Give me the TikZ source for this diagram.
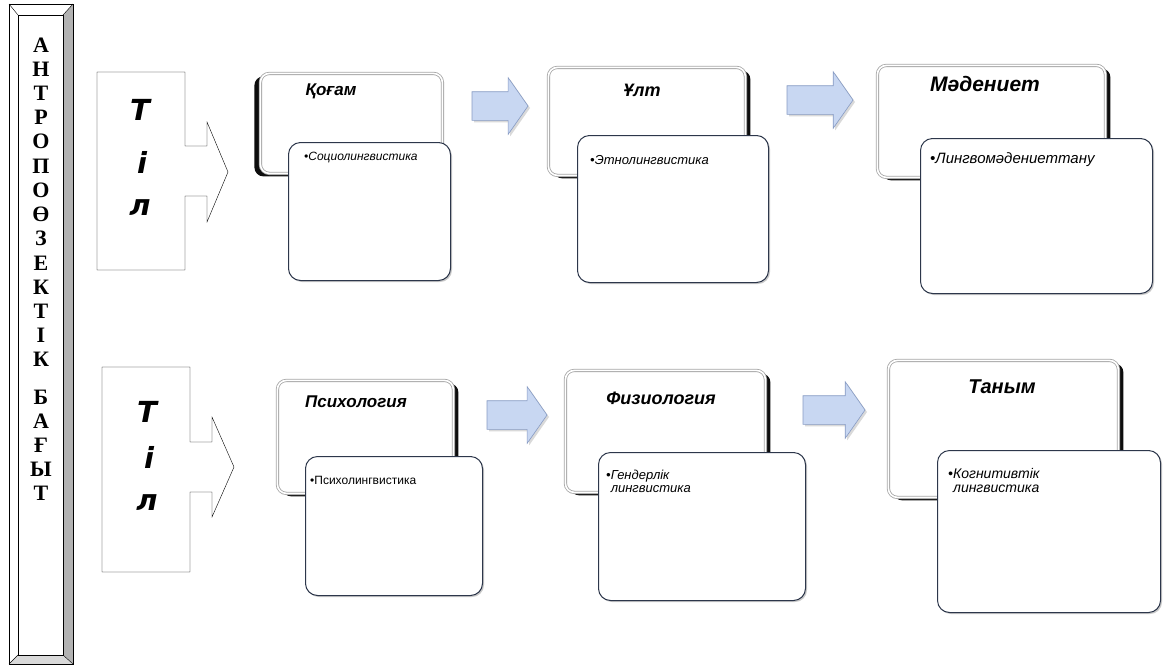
\documentclass[tikz,border=0pt]{standalone}
\usepackage{fontspec}
\setmainfont{Liberation Sans}
\newfontfamily\timesfont{Liberation Serif}
\newfontfamily\heavyfont{DejaVu Sans}
\usetikzlibrary{shapes.arrows,shadows}
\definecolor{arrowblue}{RGB}{200,215,242}
\definecolor{arrowedge}{RGB}{135,155,195}
\definecolor{cardedge}{RGB}{45,55,75}
\tikzset{
  backcard/.style={draw=gray!70, double=white, double distance=1.6pt, line width=0.8pt,
    fill=white, rounded corners=9pt, inner sep=0pt, anchor=north west,
    drop shadow={shadow xshift=#1, shadow yshift=-3pt, fill=black, opacity=0.95}},
  backcard/.default=5pt,
  frontcard/.style={draw=cardedge, line width=1pt, fill=white, rounded corners=12pt,
    inner sep=0pt, anchor=north west,
    drop shadow={shadow xshift=1.5pt, shadow yshift=-1.5pt, fill=gray!60, opacity=0.7}},
  cardtitle/.style={font=\bfseries\itshape\fontsize{#1}{#1}\selectfont, inner sep=0pt},
  cardtitle/.default=17,
  cardtext/.style={font=\itshape\fontsize{#1}{#1}\selectfont, anchor=west, align=left, inner sep=0pt},
  cardtext/.default=12,
  stepper/.style={single arrow, single arrow tip angle=110, single arrow head extend=14pt,
    inner xsep=0pt, inner ysep=14pt, fill=arrowblue, draw=arrowedge, line width=0.6pt,
    drop shadow={shadow xshift=2pt, shadow yshift=-2pt, fill=gray!50, opacity=0.6}},
  tilletter/.style={font=\heavyfont\bfseries\itshape\fontsize{29}{29}\selectfont, inner sep=0pt},
  vletter/.style={font=\timesfont\bfseries\fontsize{22}{22}\selectfont, inner sep=0pt},
}
\begin{document}
\begin{tikzpicture}[x=1pt,y=-1pt]
\useasboundingbox (0,0) rectangle (1170,670);

% vertical frame
\fill[gray!60] (63,15) -- (73,4) -- (73,664) -- (63,655) -- cycle;
\fill[gray!30] (18,655) -- (63,655) -- (73,664) -- (9,664) -- cycle;
\draw (9,4) rectangle (73,664);
\draw (18,15) rectangle (63,655);
\draw (9,4) -- (18,15) (73,4) -- (63,15) (9,664) -- (18,655) (73,664) -- (63,655);
\foreach \ch [count=\i] in {А,Н,Т,Р,О,П,О,Ө,З,Е,К,Т,І,К}
  \node[vletter] (v\i) at (41,{45+24.2*(\i-1)}) {\ch};
\foreach \ch [count=\i] in {Б,А,Ғ,Ы,Т}
  \node[vletter] (w\i) at (41,{397+24*(\i-1)}) {\ch};

% til shapes
\draw (97,72) -- (185,72) -- (185,146) -- (207,146) -- (207,122) -- (228,172)
  -- (207,222) -- (207,196) -- (185,196) -- (185,270) -- (97,270) -- cycle;
\node[tilletter] (tA1) at (140,110) {Т};
\node[tilletter] (tA2) at (142,162) {і};
\node[tilletter] (tA3) at (140,208) {л};
\draw (102,367) -- (190,367) -- (190,442) -- (212,442) -- (212,417) -- (234,467)
  -- (212,517) -- (212,492) -- (190,492) -- (190,572) -- (102,572) -- cycle;
\node[tilletter] (tB1) at (147,412) {Т};
\node[tilletter] (tB2) at (149,457) {і};
\node[tilletter] (tB3) at (147,503) {л};

% row 1
\node[backcard=-6pt, minimum width=182pt, minimum height=100pt] (b1) at (260,73) {};
\node[cardtitle] (h1) at (331,91) {Қоғам};
\node[frontcard, minimum width=162pt, minimum height=138pt] (f1) at (288,142) {};
\node[cardtext] (p1) at (304,158) {•Социолингвистика};

\node[backcard, minimum width=197pt, minimum height=108pt] (b2) at (548,67) {};
\node[cardtitle=18] (h2) at (642,90) {Ұлт};
\node[frontcard, minimum width=191pt, minimum height=147pt] (f2) at (577,135) {};
\node[cardtext=13] (p2) at (590,160) {•Этнолингвистика};

\node[backcard, minimum width=228pt, minimum height=112pt] (b3) at (877,65) {};
\node[cardtitle=21] (h3) at (985,84) {Мәдениет};
\node[frontcard, minimum width=232pt, minimum height=155pt] (f3) at (920,138) {};
\node[cardtext=15] (p3) at (930,160) {•Лингвомәдениеттану};

\node[stepper, minimum height=56pt] (s1) at (495,106) {};
\node[stepper, minimum height=66pt] (s2) at (815,100) {};

% row 2
\node[backcard, minimum width=176pt, minimum height=113pt] (b4) at (277,380) {};
\node[cardtitle] (h4) at (356,402) {Психология};
\node[frontcard, minimum width=177pt, minimum height=139pt] (f4) at (305,456) {};
\node[cardtext, font=\fontsize{12}{12}\selectfont] (p4) at (310,480) {•Психолингвистика};

\node[backcard, minimum width=200pt, minimum height=122pt] (b5) at (565,370) {};
\node[cardtitle=18] (h5) at (661,398) {Физиология};
\node[frontcard, minimum width=207pt, minimum height=148pt] (f5) at (598,452) {};
\node[cardtext=13, anchor=north west] (p5) at (606,470) {•Гендерлік\\\hphantom{•}лингвистика};

\node[backcard, minimum width=230pt, minimum height=137pt] (b6) at (888,360) {};
\node[cardtitle=20] (h6) at (1002,387) {Таным};
\node[frontcard, minimum width=223pt, minimum height=162pt] (f6) at (937,450) {};
\node[cardtext=14, anchor=north west] (p6) at (948,468) {•Когнитивтік\\\hphantom{•}лингвистика};

\node[stepper, minimum height=60pt] (s3) at (512,415) {};
\node[stepper, minimum height=62pt] (s4) at (829,410) {};
\end{tikzpicture}
\end{document}
